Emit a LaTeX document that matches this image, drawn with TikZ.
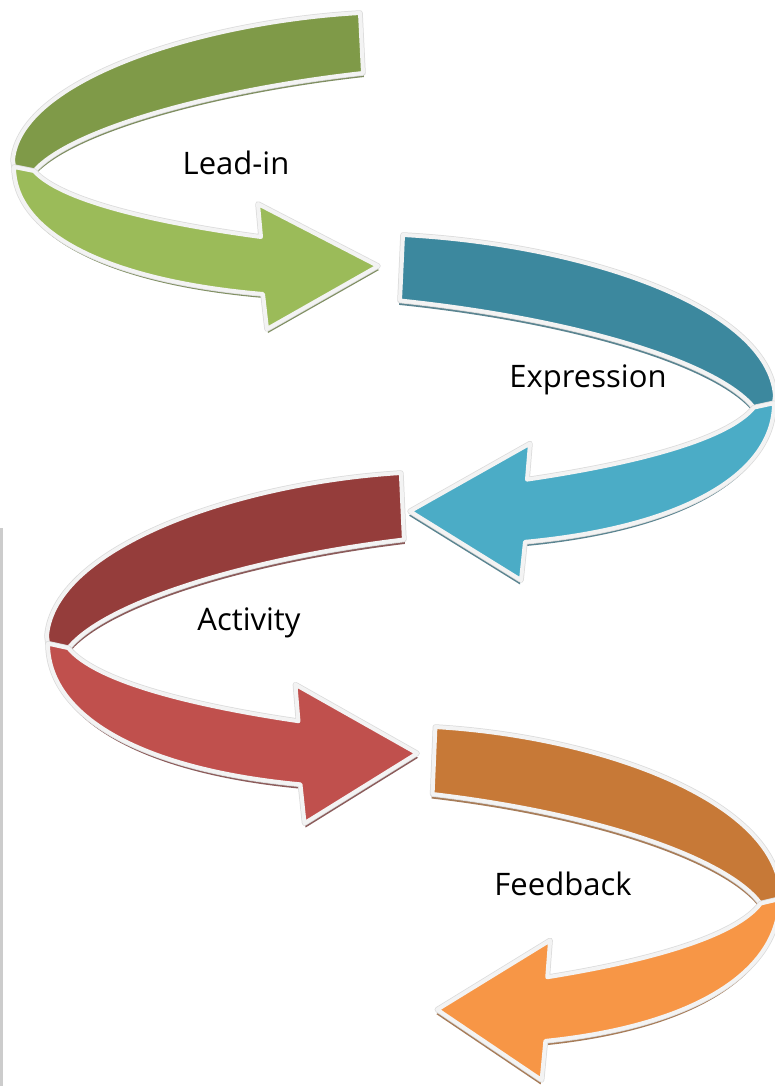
\documentclass[tikz,border=0pt]{standalone}
\usepackage{fontspec}
\newfontfamily\labelfont{Open Sans}

\definecolor{leaddark}{HTML}{7F9A48}
\definecolor{leadlight}{HTML}{9BBB59}
\definecolor{exprdark}{HTML}{3C889E}
\definecolor{exprlight}{HTML}{4BACC6}
\definecolor{actdark}{HTML}{953D3B}
\definecolor{actlight}{HTML}{C0504D}
\definecolor{feeddark}{HTML}{C77937}
\definecolor{feedlight}{HTML}{F79646}
\definecolor{rimgrey}{HTML}{F3F3F3}

% one twisted arrow, drawn in the frame of the top one
% #1 tail x, #2 back colour, #3 front colour, #4 shadow colour
\newcommand{\swirlarrow}[4]{%
  \fill[#4, shift={(1,4)}]
    (#1,13) .. controls (200,22) and (20,80) .. (13,160) -- (14,167)
    .. controls (14,230) and (100,280) .. (263,294) -- (267,329) -- (378,266)
    -- (258,204) -- (261,237) .. controls (150,222) and (60,200) .. (34,171)
    .. controls (70,130) and (210,90) .. ({#1+3},73) -- cycle;
  \filldraw[rim, fill=#2]
    (#1,13) .. controls (200,22) and (20,80) .. (13,160) -- (14,167) -- (34,171)
    .. controls (70,130) and (210,90) .. ({#1+3},73) -- cycle;
  \filldraw[rim, fill=#3]
    (14,167) .. controls (14,230) and (100,280) .. (263,294) -- (267,329) -- (378,266)
    -- (258,204) -- (261,237) .. controls (150,222) and (60,200) .. (34,171) -- cycle;
}

\begin{document}
\begin{tikzpicture}[x=1pt,y=-1pt,
    rim/.style={draw=rimgrey,line width=4pt,line join=round,
      preaction={draw=gray!28,line width=5.5pt,line join=round}},
    step label/.style={font=\labelfont\fontsize{31}{36}\selectfont,anchor=base,inner sep=0pt}]
  \fill[white] (0,0) rectangle (775,1086);
  \useasboundingbox (0,0) rectangle (775,1086);
  \clip (0,0) rectangle (775,1086);
  \fill[gray!40] (0,528) rectangle (2.5,1086);

  % Lead-in
  \swirlarrow{360}{leaddark}{leadlight}{leaddark!55!gray}
  % Expression
  \begin{scope}[shift={(788,220.8)},xscale=-1,yscale=1.092]
    \swirlarrow{385}{exprdark}{exprlight}{exprdark!55!gray}
  \end{scope}
  % Activity
  \begin{scope}[shift={(33.8,458.6)},xscale=1.014,yscale=1.108]
    \swirlarrow{362}{actdark}{actlight}{actdark!55!gray}
  \end{scope}
  % Feedback
  \begin{scope}[shift={(792.6,712.5)},xscale=-0.94,yscale=1.117]
    \swirlarrow{380}{feeddark}{feedlight}{feeddark!55!gray}
  \end{scope}

  \node[step label] (lead) at (236,175) {Lead-in};
  \node[step label] (expression) at (588,387) {Expression};
  \node[step label] (activity) at (249,630) {Activity};
  \node[step label] (feedback) at (563,895) {Feedback};
\end{tikzpicture}
\end{document}
